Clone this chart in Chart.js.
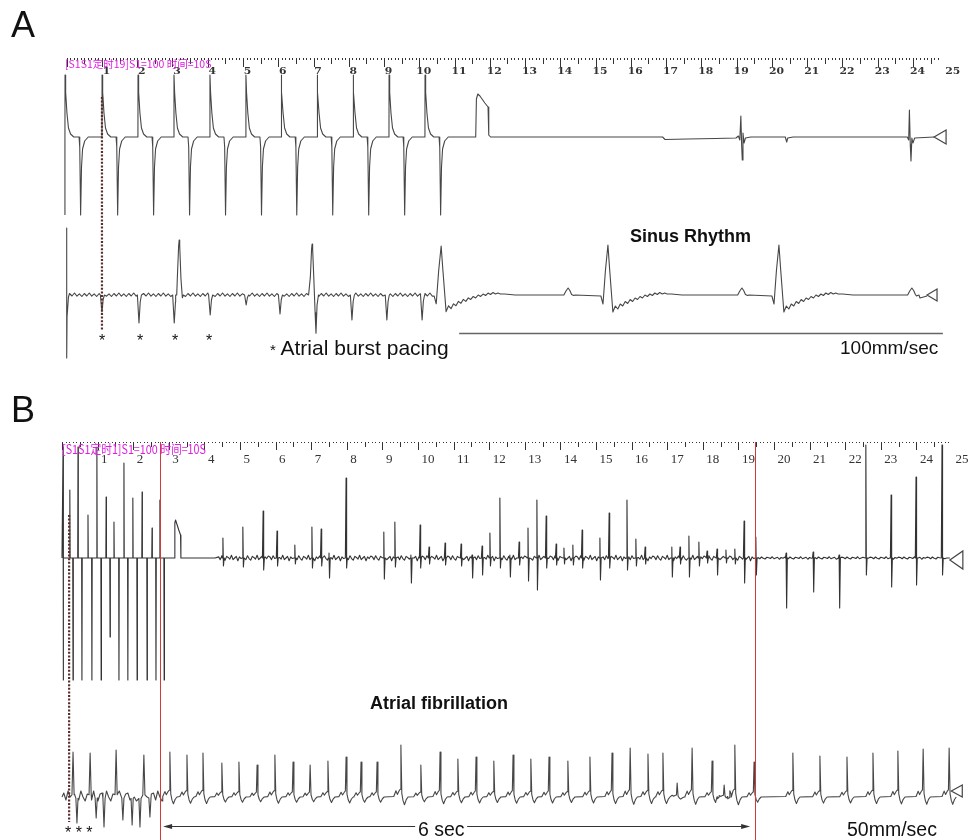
<!DOCTYPE html>
<html>
<head>
<meta charset="utf-8">
<script src="https://cdn.jsdelivr.net/npm/chart.js@4.4.1/dist/chart.umd.min.js"></script>
<style>
html, body { margin: 0; padding: 0; background: #fff; }
#wrap { position: relative; width: 971px; height: 840px; overflow: hidden; }
#ecg { position: absolute; left: 0; top: 0; width: 971px; height: 840px; }
.lbl { position: absolute; font-family: "Liberation Sans", Arial, sans-serif; line-height: 1; white-space: nowrap; color: #111; }
.mag { position: absolute; font-family: "Noto Sans CJK SC", sans-serif; line-height: 1; white-space: nowrap; color: #e01ee0; transform-origin: 0 0; }
.b { font-weight: bold; }
</style>
</head>
<body>
<div id="wrap">
  <canvas id="ecg" width="971" height="840"></canvas>
  <div class="lbl" style="left:11px;top:7px;font-size:36px">A</div>
  <div class="lbl" style="left:11px;top:392px;font-size:36px">B</div>
  <div class="mag" style="left:65px;top:59px;font-size:10.5px">[S1S1定时19]S1=100 时间=10S</div>
  <div class="mag" style="left:62px;top:443px;font-size:12.5px;transform:scaleX(0.86)">[S1S1定时1]S1=100 时间=10S</div>
  <div class="lbl b" style="left:630px;top:227px;font-size:18px">Sinus Rhythm</div>
  <div class="lbl b" style="left:370px;top:694px;font-size:18px">Atrial fibrillation</div>
  <div class="lbl" style="left:840px;top:338px;font-size:19px">100mm/sec</div>
  <div class="lbl" style="left:270px;top:337px;font-size:21px"><span style="font-size:15px">*</span> Atrial burst pacing</div>
  <div class="lbl" style="left:99px;top:333px;font-size:16px">*</div>
  <div class="lbl" style="left:137px;top:333px;font-size:16px">*</div>
  <div class="lbl" style="left:172px;top:333px;font-size:16px">*</div>
  <div class="lbl" style="left:206px;top:333px;font-size:16px">*</div>
  <div class="lbl" style="left:65px;top:825px;font-size:16px">* * *</div>
  <div class="lbl" style="left:418px;top:820px;font-size:19.5px">6 sec</div>
  <div class="lbl" style="left:847px;top:820px;font-size:19.5px">50mm/sec</div>
</div>
<script>
// ruler numbers printed on both strips
var rulerNumbers = [1, 2, 3, 4, 5, 6, 7, 8, 9, 10, 11, 12, 13, 14, 15, 16, 17, 18, 19, 20, 21, 22, 23, 24, 25];

// ---------- panel A, upper lead (times in ruler units, values in mm) ----------
var aPaceTimes = [-0.05, 1.0, 2.02, 3.04, 4.06, 5.08, 6.08, 7.1, 8.12, 9.14, 10.16];
var aPaceShape = [[0, 0], [0.003, 6.2], [0.02, 4.5], [0.057, 2.4], [0.1, 0.9], [0.16, 0.3], [0.25, 0],
                  [0.40, 0], [0.42, -1.0], [0.445, -7.8], [0.47, -3.0], [0.5, -1.2], [0.56, -0.4], [0.66, 0]];
var aTopHead = [[-0.05, -7.8]];
var aTopTail = [[11.0, 0], [11.6, 0], [11.62, 3.8], [11.66, 4.3], [11.72, 4.1], [11.86, 3.4], [11.95, 3.0],
                [11.97, 0.2], [12.02, 0], [16.9, 0], [16.97, -0.25], [17.6, -0.2], [18.4, -0.15], [18.98, -0.1],
                [19.05, 0.1], [19.09, -0.3], [19.12, 2.1], [19.14, -0.6], [19.16, -2.3], [19.18, 0.4],
                [19.21, -0.6], [19.25, -0.1], [19.4, 0], [20.38, 0], [20.42, -0.5], [20.45, -0.1], [20.6, 0],
                [23.84, 0], [23.88, -0.3], [23.9, 2.7], [23.925, -0.8], [23.945, -2.4], [23.97, -0.1],
                [24.0, -0.6], [24.05, -0.1], [24.6, 0]];
var aTopEnd = [24.6, 0];

// ---------- panel A, lower lead ----------
var aLowHead = [[0.0, 6.7], [0.0, -6.3], [0.01, -2.2], [0.05, -0.2]];
var aLowDipTimes = [1.0, 2.05, 3.05, 4.07, 5.09, 6.05, 8.09, 9.08, 10.08];
var aLowDipDepth = [1.7, 2.8, 2.8, 2.0, 1.0, 1.9, 2.5, 2.5, 2.5];
var dipShape = [[-0.045, 0], [0, -1], [0.035, -0.25], [0.07, 0]];
var aLowPacedQrsTimes = [3.19];
var aLowPacedQrsAmp = [5.5];
var pacedQrsShape = [[-0.1, 0], [-0.05, 0.35], [-0.015, 0.9], [0, 1], [0.015, 0.9], [0.05, 0.3], [0.09, -0.05], [0.12, 0]];
var aLowFusedTimes = [6.96];
var aLowFusedAmp = [5.1];
var fusedQrsShape = [[-0.1, 0], [-0.05, 0.35], [-0.015, 0.9], [0, 1], [0.015, 0.9], [0.05, 0.3], [0.085, -0.35],
                     [0.11, -0.75], [0.14, -0.2], [0.18, 0]];
var aLowSinusTimes = [10.62, 15.35, 20.2];
var aLowSinusAmp = [4.9, 5.0, 5.0];
var sinusShape = [[-0.2, -0.1], [-0.14, -0.9], [-0.07, 2.5], [0, 5.0], [0.05, 2.5], [0.14, -1.7], [0.21, -1.1],
                  [0.28, -1.4], [0.35, -0.9], [0.42, -1.1], [0.49, -0.65], [0.56, -0.85], [0.63, -0.45], [0.70, -0.65],
                  [0.77, -0.3], [0.84, -0.45], [0.91, -0.15], [0.98, -0.3], [1.05, 0.0], [1.12, -0.15], [1.19, 0.1],
                  [1.26, -0.05], [1.33, 0.2], [1.40, 0.05], [1.47, 0.25], [1.54, 0.1], [1.61, 0.2], [1.68, 0.1],
                  [1.80, 0.1], [2.1, 0]];
var aLowPTimes = [14.22, 19.15, 23.97];
var pShape = [[-0.12, 0], [-0.06, 0.4], [0, 0.7], [0.05, 0.45], [0.1, 0.05], [0.16, -0.05], [0.2, 0]];
var aLowTail = [[24.1, -0.1], [24.2, -0.3], [24.3, -0.2], [24.4, -0.1]];
var flutterRipple = [0.15, -0.1, 0.2, -0.12, 0.12, -0.15];
var aLowEnd = [24.4, 0];

// ---------- panel B, upper lead ----------
var bTopHead = [[0.0, 0], [0.03, 11.1], [0.032, -12.2], [0.045, 0]];
var bStimUpT = [0.22, 0.45, 0.73, 0.98, 1.24, 1.46, 1.74, 1.99, 2.25, 2.53, 2.75];
var bStimUp = [6.8, 11.1, 4.3, 11.1, 6.1, 3.6, 9.5, 6.0, 6.6, 3.0, 5.8];
var bStimDownT = [0.31, 0.56, 0.84, 1.10, 1.35, 1.60, 1.85, 2.11, 2.39, 2.64, 2.87];
var bStimDown = [-12.2, -12.2, -12.2, -12.2, -7.9, -12.2, -12.2, -12.2, -12.2, -12.2, -12.2];
var needleShape = [[-0.008, 0], [0, 1], [0.008, 0]];
var bTopBump = [[3.15, 0], [3.17, 3.5], [3.19, 3.8], [3.28, 2.8], [3.33, 2.3], [3.34, 0]];
var bAfT = [4.52, 5.08, 5.65, 6.04, 6.54, 7.02, 7.28, 7.50, 7.98, 9.04, 9.35, 9.80, 10.06, 10.31, 10.76, 11.21,
            11.52, 11.80, 12.02, 12.30, 12.58, 12.84, 13.09, 13.34, 13.60, 13.88, 14.10, 14.35, 14.61, 15.11,
            15.37, 15.87, 16.12, 16.38, 17.13, 17.36, 17.61, 17.89, 18.12, 18.40, 18.65, 18.90, 19.16, 19.49,
            20.34, 21.10, 21.83, 22.58, 23.29, 23.99, 24.72];
var bAfUp = [2.0, 3.1, 4.7, 2.7, 1.3, 3.1, 2.9, 0.5, 8.0, 2.6, 3.6, 0.3, 3.3, 1.1, 1.5, 1.4,
             0.3, 1.2, 2.5, 6.0, 0.3, 1.6, 3.0, 5.8, 4.2, 1.4, 1.0, 1.3, 2.8, 2.0,
             4.5, 5.8, 1.9, 1.1, 1.1, 1.1, 2.2, 1.6, 0.7, 0.9, 0.8, 0.9, 3.7, 2.1,
             0.5, 0.6, 0.3, 11.3, 6.3, 8.1, 11.3];
var bAfDn = [-0.8, -0.9, -1.2, -0.8, -0.6, -1.0, -0.8, -2.0, -1.0, -2.1, -0.9, -2.5, -1.0, -0.6, -0.7, -0.8,
             -2.0, -1.7, -0.8, -1.0, -1.9, -0.7, -2.3, -3.2, -1.0, -0.7, -0.6, -0.7, -1.0, -2.2,
             -1.0, -1.2, -0.8, -0.6, -1.9, -0.6, -1.9, -0.8, -0.5, -1.7, -0.5, -0.6, -2.5, -1.7,
             -5.0, -3.4, -5.0, -1.7, -2.9, -2.7, -1.7];
var fibNoise = [0.2, -0.3, 0.4, -0.1, -0.4, 0.3, 0.1, -0.2, 0.5, -0.3, 0.0, 0.3, -0.5, 0.2, -0.1, 0.35];
var bTopEnd = [24.94, -0.2];

// ---------- panel B, lower lead ----------
var bLowUpT = [0.31, 0.79, 1.52, 2.30];
var bLowUpAmp = [4.5, 4.4, 4.7, 4.2];
var bLowDownT = [0.42, 0.96, 1.18, 1.71, 1.97, 2.19, 2.47];
var bLowDownAmp = [-2.6, -2.1, -3.0, -2.3, -2.8, -3.0, -2.0];
var sharpShape = [[-0.03, 0.05], [0, 1], [0.03, 0.05]];
var bLowRipple = [0.4, -0.3, 0.6, 0.0, -0.4, 0.3];
var bLowBeatT = [3.03, 3.51, 3.96, 4.49, 4.97, 5.48, 5.98, 6.49, 6.97, 7.47, 7.98, 8.40, 8.85, 9.52, 10.08,
                 10.62, 11.12, 11.63, 12.13, 12.67, 13.17, 13.68, 14.21, 14.83, 15.45, 15.96, 16.46, 16.88,
                 17.28, 17.70, 18.26, 18.60, 18.90, 19.44, 20.53, 21.29, 22.05, 22.78, 23.48, 24.19, 24.92];
var bLowBeatAmp = [4.5, 4.2, 4.4, 3.4, 3.5, 3.2, 4.2, 3.5, 3.2, 3.6, 4.0, 3.5, 3.5, 5.2, 3.2,
                   4.5, 3.8, 4.0, 3.6, 4.2, 3.8, 4.0, 3.6, 4.0, 4.4, 4.9, 4.3, 4.4,
                   1.4, 4.9, 3.6, 1.2, 5.2, 3.5, 4.4, 4.1, 4.0, 4.4, 4.6, 4.8, 4.9];
var afBeatShape = [[-0.2, 0.01], [-0.14, 0.12], [-0.1, 0.05], [-0.05, 0.12], [-0.02, 0.15], [0, 1],
                   [0.025, 0.07], [0.06, -0.07], [0.1, -0.15], [0.15, -0.05], [0.2, 0]];
var bLowEnd = [24.98, 0.6];

// ---------- helpers that turn the read values into {x, y} points ----------
function newTrace() { return { pts: [], gaps: [] }; }
function addPoints(tr, list) {
  list.forEach(function (p) { tr.pts.push({ x: p[0], y: p[1] }); });
}
function addShapes(tr, times, amps, shape) {
  times.forEach(function (t, i) {
    var k = amps ? amps[i] : 1;
    shape.forEach(function (p) { tr.pts.push({ x: t + p[0], y: p[1] * k }); });
    tr.gaps.push([t + shape[0][0], t + shape[shape.length - 1][0]]);
  });
}
function addRipple(tr, from, to, step, pattern, scale) {
  var n = 0;
  for (var t = from; t <= to; t += step, n++) {
    var blocked = tr.gaps.some(function (g) { return t > g[0] - 0.01 && t < g[1] + 0.01; });
    if (!blocked) tr.pts.push({ x: t, y: pattern[n % pattern.length] * scale });
  }
}
function done(tr) {
  return tr.pts.sort(function (a, b) { return a.x - b.x; });
}

// A upper
var aTop = newTrace();
addPoints(aTop, aTopHead);
addShapes(aTop, aPaceTimes, null, aPaceShape);
addPoints(aTop, aTopTail);

// A lower
var aLow = newTrace();
addPoints(aLow, aLowHead);
addShapes(aLow, aLowDipTimes, aLowDipDepth, dipShape);
addShapes(aLow, aLowPacedQrsTimes, aLowPacedQrsAmp, pacedQrsShape);
addShapes(aLow, aLowFusedTimes, aLowFusedAmp, fusedQrsShape);
addShapes(aLow, aLowSinusTimes, aLowSinusAmp.map(function (a) { return a / 5; }), sinusShape);
addShapes(aLow, aLowPTimes, null, pShape);
addRipple(aLow, 0.08, 10.45, 0.07, flutterRipple, 1);
addPoints(aLow, aLowTail);

// B upper
var bTop = newTrace();
addPoints(bTop, bTopHead);
addShapes(bTop, bStimUpT, bStimUp, needleShape);
addShapes(bTop, bStimDownT, bStimDown, needleShape);
addPoints(bTop, bTopBump);
bAfT.forEach(function (t, i) {
  bTop.pts.push({ x: t - 0.02, y: 0 }, { x: t, y: bAfUp[i] }, { x: t + 0.015, y: bAfDn[i] }, { x: t + 0.035, y: 0 });
  bTop.gaps.push([t - 0.02, t + 0.035]);
});
addPoints(bTop, [[2.95, 0], [3.1, 0], [4.3, 0], [24.94, 0]]);
addRipple(bTop, 4.4, 19.45, 0.045, fibNoise, 0.55);
addRipple(bTop, 19.55, 24.9, 0.05, fibNoise, 0.25);

// B lower
var bLow = newTrace();
addPoints(bLow, [[0.0, 0]]);
addShapes(bLow, bLowUpT, bLowUpAmp, sharpShape);
addShapes(bLow, bLowDownT, bLowDownAmp, sharpShape);
addShapes(bLow, bLowBeatT, bLowBeatAmp, afBeatShape);
addRipple(bLow, 0.05, 2.95, 0.06, bLowRipple, 1);

var traceColor = '#474747';

function lineSet(data, xId, yId, color) {
  return {
    type: 'line', data: data, xAxisID: xId, yAxisID: yId,
    borderColor: color, borderWidth: 1.1, tension: 0,
    pointRadius: 0, pointBorderWidth: 0, pointHitRadius: 0,
    borderJoinStyle: 'round', fill: false
  };
}

// ruler, marker lines, arrows, end triangles and scale bars, all placed through the chart's scales
function drawRuler(ctx, sx, r) {
  ctx.save();
  ctx.fillStyle = r.color;
  for (var k = Math.round(r.from * 10); k <= Math.round(r.to * 10); k++) {
    var x = Math.round(sx.getPixelForValue(k / 10));
    var len = (k % 10 === 0) ? r.major : (k % 5 === 0 ? r.half : r.minor);
    ctx.fillRect(x, r.y, 1, len);
  }
  ctx.font = r.font;
  ctx.textBaseline = 'alphabetic';
  rulerNumbers.forEach(function (n) {
    var x = sx.getPixelForValue(n) + r.labelDx;
    ctx.save();
    ctx.translate(x, r.labelY);
    ctx.scale(r.stretch, 1);
    ctx.textAlign = r.align;
    ctx.fillText(String(n), 0, 0);
    ctx.restore();
  });
  ctx.restore();
}

function endTriangle(ctx, sx, sy, p, w, h) {
  var x = sx.getPixelForValue(p[0]), y = sy.getPixelForValue(p[1]);
  ctx.beginPath();
  ctx.moveTo(x, y);
  ctx.lineTo(x + w, y - h / 2);
  ctx.lineTo(x + w, y + h / 2);
  ctx.closePath();
  ctx.fillStyle = '#fff';
  ctx.fill();
  ctx.stroke();
}

var figurePlugin = {
  id: 'figure',
  beforeDatasetsDraw: function (chart) {
    var ctx = chart.ctx, s = chart.scales;
    drawRuler(ctx, s.xA, { y: 58, from: 0, to: 24.7, major: 9, half: 6, minor: 2, color: '#333',
      font: 'bold 9px "DejaVu Serif"', labelDx: 4.5, labelY: 74, stretch: 1.2, align: 'center' });
    drawRuler(ctx, s.xB, { y: 442, from: 0, to: 24.86, major: 8, half: 5, minor: 1, color: '#333',
      font: '13px "Liberation Serif"', labelDx: 3.5, labelY: 463, stretch: 1, align: 'left' });
  },
  afterDatasetsDraw: function (chart) {
    var ctx = chart.ctx, s = chart.scales;

    // red marker lines in B
    ctx.save();
    ctx.strokeStyle = '#d23a3a';
    ctx.lineWidth = 1;
    [2.75, 19.47].forEach(function (t) {
      var x = Math.round(s.xB.getPixelForValue(t)) + 0.5;
      ctx.beginPath();
      ctx.moveTo(x, s.yB1.getPixelForValue(11.6));
      ctx.lineTo(x, chart.chartArea.bottom + 2);
      ctx.stroke();
    });
    ctx.restore();

    // dotted markers
    ctx.save();
    ctx.strokeStyle = '#5a2d2d';
    ctx.lineWidth = 2.2;
    ctx.setLineDash([2, 1.6]);
    var xa = s.xA.getPixelForValue(1.0);
    ctx.beginPath();
    ctx.moveTo(xa, s.yA1.getPixelForValue(4.0));
    ctx.lineTo(xa, s.yA2.getPixelForValue(-3.5));
    ctx.stroke();
    var xb = s.xB.getPixelForValue(0.2);
    ctx.beginPath();
    ctx.moveTo(xb, s.yB1.getPixelForValue(4.3));
    ctx.lineTo(xb, s.yB2.getPixelForValue(-2.5));
    ctx.stroke();
    ctx.restore();

    // end-of-trace triangles
    ctx.save();
    ctx.strokeStyle = '#444';
    ctx.lineWidth = 1.2;
    endTriangle(ctx, s.xA, s.yA1, aTopEnd, 12, 14);
    endTriangle(ctx, s.xA, s.yA2, aLowEnd, 10, 12);
    endTriangle(ctx, s.xB, s.yB1, bTopEnd, 13, 18);
    endTriangle(ctx, s.xB, s.yB2, bLowEnd, 11, 12);
    ctx.restore();

    // 100 mm/sec bar
    ctx.save();
    ctx.strokeStyle = '#666';
    ctx.lineWidth = 1.3;
    var yb = Math.round(s.yA2.getPixelForValue(-3.8)) + 0.5;
    ctx.beginPath();
    ctx.moveTo(s.xA.getPixelForValue(11.13), yb);
    ctx.lineTo(s.xA.getPixelForValue(24.85), yb);
    ctx.stroke();

    // 6 sec arrow
    ctx.strokeStyle = '#333';
    ctx.fillStyle = '#333';
    ctx.lineWidth = 1;
    var ya = Math.round(s.yB2.getPixelForValue(-2.9)) + 0.5;
    var x1 = s.xB.getPixelForValue(2.84), x2 = s.xB.getPixelForValue(9.92);
    var x3 = s.xB.getPixelForValue(11.38), x4 = s.xB.getPixelForValue(19.33);
    ctx.beginPath();
    ctx.moveTo(x1 + 5, ya); ctx.lineTo(x2, ya);
    ctx.moveTo(x3, ya); ctx.lineTo(x4 - 5, ya);
    ctx.stroke();
    ctx.beginPath();
    ctx.moveTo(x1, ya); ctx.lineTo(x1 + 9, ya - 2.5); ctx.lineTo(x1 + 9, ya + 2.5); ctx.closePath();
    ctx.moveTo(x4, ya); ctx.lineTo(x4 - 9, ya - 2.5); ctx.lineTo(x4 - 9, ya + 2.5); ctx.closePath();
    ctx.fill();
    ctx.restore();
  }
};

function hidden(axis, min, max) {
  return { type: 'linear', axis: axis, display: false, min: min, max: max };
}

var chart = new Chart(document.getElementById('ecg').getContext('2d'), {
  data: {
    datasets: [
      lineSet(done(aTop), 'xA', 'yA1', traceColor),
      lineSet(done(aLow), 'xA', 'yA2', traceColor),
      lineSet(done(bTop), 'xB', 'yB1', '#333'),
      lineSet(done(bLow), 'xB', 'yB2', traceColor)
    ]
  },
  options: {
    responsive: false,
    animation: false,
    events: [],
    layout: { padding: 0 },
    plugins: { legend: { display: false }, tooltip: { enabled: false } },
    scales: {
      xA: hidden('x', -1.8917, 25.647),
      xB: hidden('x', -1.7416, 25.534),
      yA1: hidden('y', -70.3, 13.7),
      yA2: hidden('y', -54.5, 29.5),
      yB1: hidden('y', -28.2, 55.8),
      yB2: hidden('y', -4.3, 79.7)
    }
  },
  plugins: [figurePlugin]
});
</script>
</body>
</html>
